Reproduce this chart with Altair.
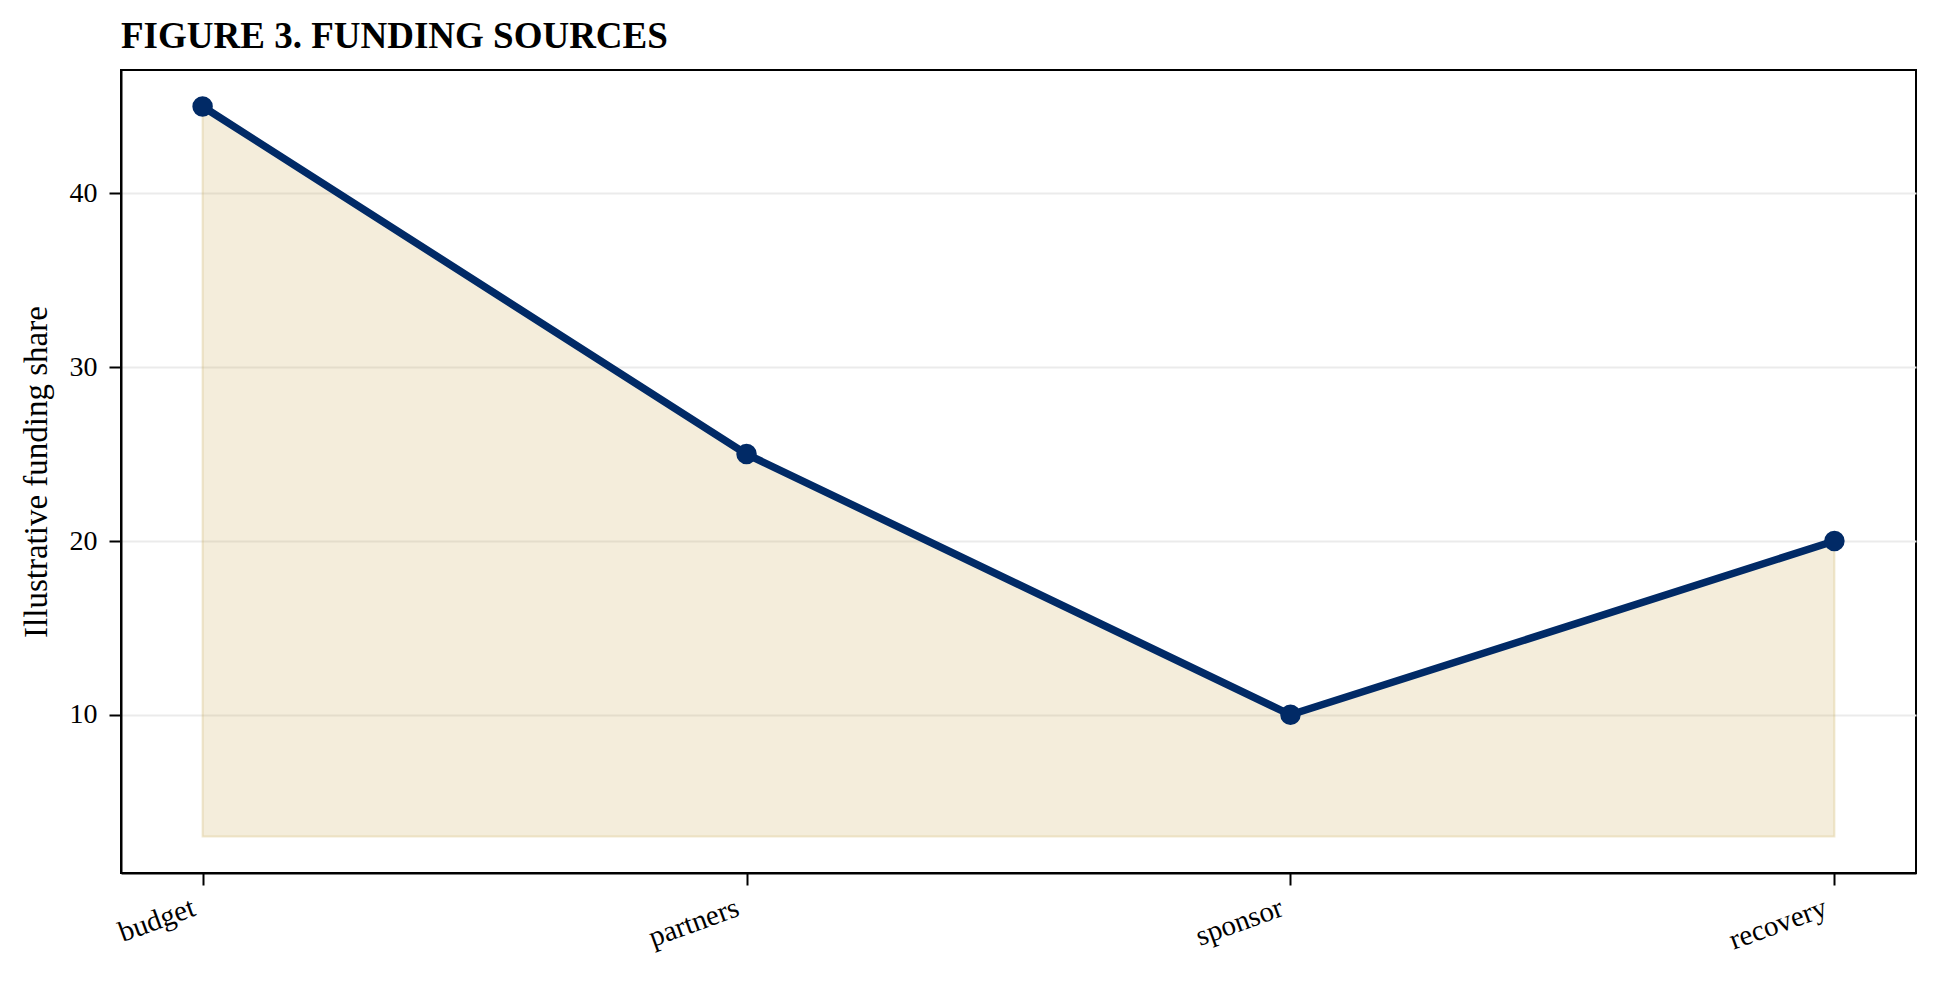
import altair as alt
import pandas as pd

categories = ["budget", "partners", "sponsor", "recovery"]
shares = [45, 25, 10, 20]
baseline = [3, 3, 3, 3]

df = pd.DataFrame({"source": categories, "share": shares, "base": baseline})

FONT = "Liberation Serif"
NAVY = "#012a66"

x_enc = alt.X(
    "source:N",
    sort=categories,
    scale=alt.Scale(type="point", padding=0.15),
    axis=alt.Axis(
        title=None,
        labelAngle=340,
        labelAlign="right",
        labelBaseline="top",
        labelPadding=8,
        labelOffset=-14,
        tickSize=12,
        tickWidth=2,
        tickColor="black",
        grid=False,
        domainColor="black",
        domainWidth=2,
        labelFontSize=29,
        labelFont=FONT,
        labelColor="black",
    ),
)

y_scale = alt.Scale(domain=[0.9, 47.1], nice=False, zero=False)
y_axis = alt.Axis(
    title="Illustrative funding share",
    titleFont=FONT,
    titleFontSize=33,
    titleFontWeight="normal",
    titleColor="black",
    titlePadding=16,
    values=[10, 20, 30, 40],
    tickSize=12,
    tickWidth=2,
    tickColor="black",
    labelPadding=12,
    labelFontSize=28,
    labelFont=FONT,
    labelColor="black",
    grid=True,
    gridColor="#ebebeb",
    gridWidth=2,
    domainColor="black",
    domainWidth=2,
)

area = alt.Chart(df).mark_area(
    color="#c9a64b", fillOpacity=0.2, stroke="#c9a64b", strokeOpacity=0.25, strokeWidth=2
).encode(
    x=x_enc,
    y=alt.Y("share:Q", scale=y_scale, axis=y_axis),
    y2="base:Q",
)

line = alt.Chart(df).mark_line(color=NAVY, strokeWidth=7.5).encode(
    x=x_enc,
    y=alt.Y("share:Q", scale=y_scale, axis=y_axis),
)

points = alt.Chart(df).mark_circle(color=NAVY, size=420, opacity=1).encode(
    x=x_enc,
    y=alt.Y("share:Q", scale=y_scale, axis=y_axis),
)

chart = (
    alt.layer(area, line, points)
    .properties(
        width=1795,
        height=803,
        title=alt.TitleParams(
            "FIGURE 3. FUNDING SOURCES",
            anchor="start",
            frame="group",
            font=FONT,
            fontSize=37,
            fontWeight="bold",
            color="black",
            baseline="alphabetic",
            offset=22,
            dy=37,
        ),
        autosize=alt.AutoSizeParams(type="none"),
        padding={"left": 113, "top": 62, "right": 16, "bottom": 102},
    )
    .configure(background="white")
    .configure_view(stroke="black", strokeWidth=2)
)

chart.save("out.html", embed_options={"renderer": "svg", "actions": False})
